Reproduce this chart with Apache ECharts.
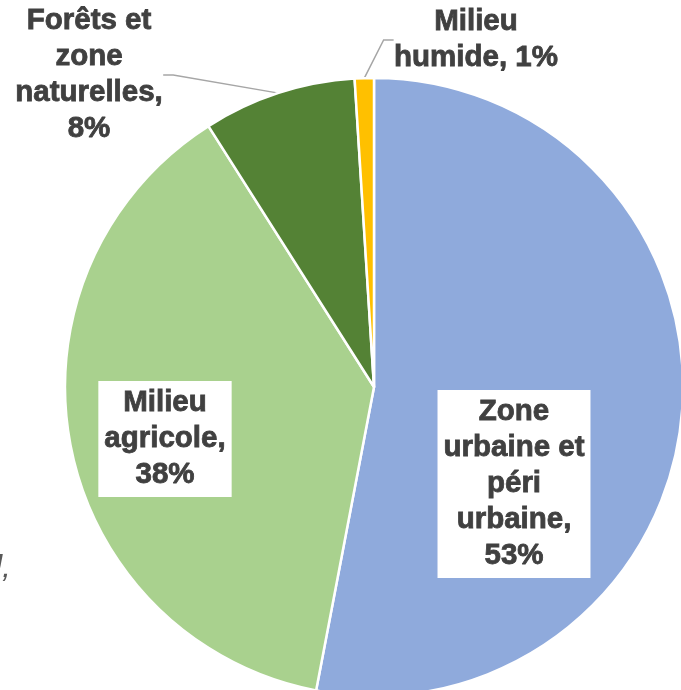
<!DOCTYPE html>
<html lang="fr">
<head>
    <meta charset="UTF-8">
    <title>Occupation du sol</title>
    <style>
        html, body {
            margin: 0;
            padding: 0;
            background: #ffffff;
        }
        #chart {
            width: 681px;
            height: 690px;
        }
    </style>
    <script src="https://cdn.jsdelivr.net/npm/echarts@6/dist/echarts.min.js"></script>
</head>
<body>
    <div id="chart"></div>
    <script>
        // données du graphique
        const categories = ['Zone urbaine et péri urbaine', 'Milieu agricole', 'Forêts et zone naturelles', 'Milieu humide'];
        const values = [53, 38, 8, 1];
        // libellés coupés comme sur l'original
        const labelNames = ['Zone\nurbaine et\npéri\nurbaine', 'Milieu\nagricole', 'Forêts et\nzone\nnaturelles', 'Milieu\nhumide'];
        const labelSep = [',\n', ',\n', ',\n', ', '];
        const colors = ['#8faadc', '#a9d18e', '#548235', '#ffc000'];

        // position des étiquettes (centre) et placement
        const labelPlace = [
            { x: 514, y: 484, inside: true },
            { x: 165, y: 439, inside: true },
            { x: 89, y: 75, inside: false },
            { x: 476, y: 40, inside: false }
        ];

        const chart = echarts.init(document.getElementById('chart'));

        const seriesData = categories.map((name, i) => {
            const place = labelPlace[i];
            return {
                name: name,
                value: values[i],
                itemStyle: { color: colors[i] },
                label: place.inside ? {
                    position: 'inside',
                    backgroundColor: '#ffffff',
                    padding: [4, 6]
                } : {
                    position: 'outside'
                },
                labelLine: { show: !place.inside }
            };
        });

        chart.setOption({
            animation: false,
            graphic: [{
                type: 'text',
                left: -5,
                top: 552,
                style: {
                    text: 'l,',
                    fontSize: 32,
                    fontStyle: 'italic',
                    fontFamily: 'Liberation Sans, Arial, sans-serif',
                    fill: '#595959'
                }
            }],
            series: [{
                type: 'pie',
                center: [374, 387],
                radius: 309,
                startAngle: 90,
                clockwise: true,
                avoidLabelOverlap: false,
                itemStyle: {
                    borderColor: '#ffffff',
                    borderWidth: 2.5
                },
                label: {
                    show: true,
                    formatter: p => labelNames[p.dataIndex] + labelSep[p.dataIndex] + p.value + '%',
                    fontFamily: 'Liberation Sans, Arial, sans-serif',
                    fontWeight: 'bold',
                    fontSize: 29.5,
                    lineHeight: 36,
                    color: '#404040',
                    textBorderColor: '#404040',
                    textBorderWidth: 0.8,
                    align: 'center'
                },
                labelLine: {
                    length: 12,
                    length2: 10,
                    lineStyle: { color: '#a6a6a6', width: 1.5 }
                },
                labelLayout: p => {
                    const place = labelPlace[p.dataIndex];
                    return {
                        x: place.x,
                        y: place.y,
                        align: 'center',
                        verticalAlign: 'middle'
                    };
                },
                data: seriesData
            }]
        });
    </script>
</body>
</html>
